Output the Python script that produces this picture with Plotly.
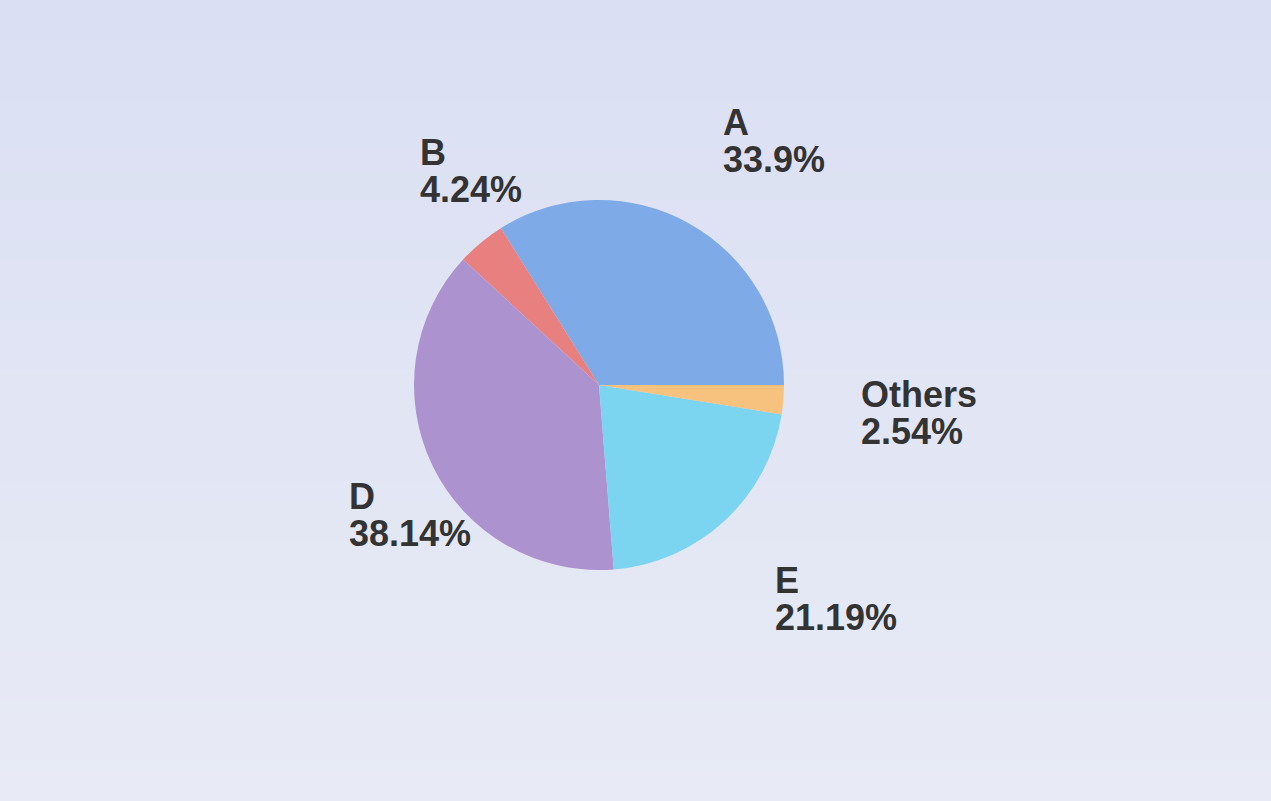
import math
import plotly.graph_objects as go

# ---- data ----
labels = ["A", "B", "D", "E", "Others"]
values = [33.9, 4.24, 38.14, 21.19, 2.54]
colors = ["#7eabe8", "#e8807f", "#ac93cf", "#7bd5f0", "#f7c17e"]

W, H = 1271, 801
CX, CY, R = 599, 385, 185          # pie centre / radius in pixels
LABEL_RX = 1.46                     # label distance in radii (horizontal)
LABEL_RY = 1.54                     # label distance in radii (vertical)
LABEL_DX, LABEL_DY = -9, 5          # label offset in px
LINE_GAP = 18.5                     # half line pitch in px
START_DEG = 0                       # first slice starts at 3 o'clock, counterclockwise

total = sum(values)
fig = go.Figure()

# background gradient bands
top = (218, 223, 243)
bot = (232, 235, 245)
N = 80
shapes = []
for i in range(N):
    t = i / (N - 1)
    c = tuple(round(top[k] + (bot[k] - top[k]) * t) for k in range(3))
    shapes.append(dict(type="rect", xref="paper", yref="paper",
                       x0=0, x1=1, y0=1 - (i + 1) / N, y1=1 - i / N,
                       line=dict(width=0), fillcolor="rgb(%d,%d,%d)" % c,
                       layer="below"))

# plotly: with counterclockwise, the first slice lies clockwise of `rotation`
rotation = 90 - START_DEG - values[0] / total * 360

fig.add_trace(go.Pie(
    labels=labels, values=values, sort=False,
    direction="counterclockwise", rotation=rotation,
    marker=dict(colors=colors, line=dict(width=0)),
    textinfo="none", hoverinfo="label+percent", showlegend=False,
    domain=dict(x=[(CX - R) / W, (CX + R) / W],
                y=[(H - CY - R) / H, (H - CY + R) / H]),
))

annotations = []
cum = 0.0
for lab, v in zip(labels, values):
    mid = START_DEG + (cum + v / 2) / total * 360
    cum += v
    a = math.radians(mid)
    px = CX + LABEL_RX * R * math.cos(a) + LABEL_DX
    py = CY - LABEL_RY * R * math.sin(a) + LABEL_DY
    for txt, dy in ((lab, -LINE_GAP), (f"{v}%", LINE_GAP)):
        annotations.append(dict(
            x=px / W, y=1 - (py + dy) / H, xref="paper", yref="paper",
            text=f"<b>{txt}</b>", showarrow=False,
            xanchor="left", yanchor="middle",
            font=dict(family="Liberation Sans, Arial", size=36, color="#333333"),
        ))

fig.update_layout(
    width=W, height=H,
    margin=dict(l=0, r=0, t=0, b=0),
    paper_bgcolor="#e1e5f4", plot_bgcolor="rgba(0,0,0,0)",
    shapes=shapes, annotations=annotations,
)

fig.write_html(
    "out.html",
    config={"displayModeBar": False},
    post_script="document.body.style.margin='0';document.body.style.overflow='hidden';",
)
